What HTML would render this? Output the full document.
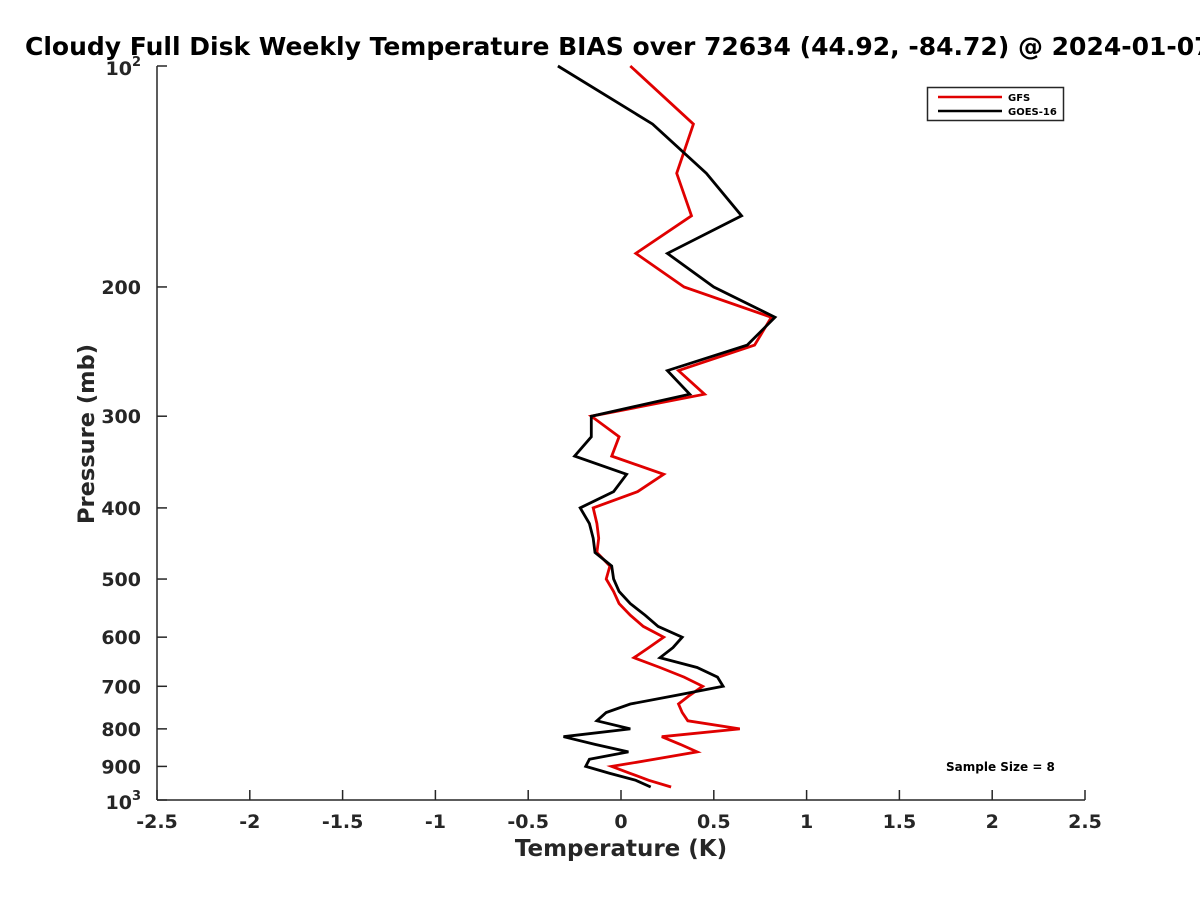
<!DOCTYPE html>
<html><head><meta charset="utf-8">
<style>
body{margin:0;background:#fff;overflow:hidden;}
svg{display:block;font-family:"DejaVu Sans","Liberation Sans",sans-serif;font-weight:bold;}
</style></head>
<body>
<svg id="chart" width="1200" height="900" viewBox="0 0 1200 900" xmlns="http://www.w3.org/2000/svg">
<rect width="1200" height="900" fill="#fff"/>
<text x="25" y="55" font-size="25" fill="#000">Cloudy Full Disk Weekly Temperature BIAS over 72634 (44.92, -84.72) @ 2024-01-07</text>
<g id="axes"></g>
<g id="series"></g>
<g>
<rect x="927.5" y="87.5" width="136" height="33" fill="#fff" stroke="#262626" stroke-width="1.5"/>
<line x1="938" y1="97" x2="1002" y2="97" stroke="#e00000" stroke-width="2.5"/>
<text x="1008" y="101" font-size="10" fill="#000">GFS</text>
<line x1="938" y1="111" x2="1002" y2="111" stroke="#000" stroke-width="2.5"/>
<text x="1008" y="115" font-size="10" fill="#000">GOES-16</text>
</g>
<text x="946" y="771" font-size="12" fill="#000">Sample Size = 8</text>
<text x="621" y="856" font-size="23" text-anchor="middle" fill="#262626">Temperature (K)</text>
<text transform="translate(94,434) rotate(-90)" font-size="22.5" text-anchor="middle" fill="#262626">Pressure (mb)</text>
</svg>
<script>
const pressureLevels = [100,120,140,160,180,200,220,240,260,280,300,320,340,360,380,400,420,440,460,480,500,520,540,560,580,600,620,640,660,680,700,720,740,760,780,800,820,840,860,880,900,920,940,960];
const gfsBias = [0.05,0.39,0.30,0.38,0.08,0.34,0.81,0.72,0.31,0.45,-0.16,-0.01,-0.05,0.23,0.09,-0.15,-0.13,-0.12,-0.13,-0.06,-0.08,-0.04,-0.01,0.05,0.12,0.23,0.15,0.07,0.21,0.34,0.44,0.37,0.31,0.33,0.36,0.64,0.22,0.32,0.41,0.18,-0.05,0.05,0.15,0.27];
const goesBias = [-0.34,0.17,0.46,0.65,0.25,0.50,0.83,0.68,0.25,0.37,-0.16,-0.16,-0.25,0.03,-0.04,-0.22,-0.17,-0.15,-0.14,-0.05,-0.04,-0.01,0.05,0.13,0.20,0.33,0.28,0.21,0.41,0.52,0.55,0.30,0.05,-0.08,-0.13,0.05,-0.31,-0.14,0.04,-0.17,-0.19,-0.06,0.08,0.16];
const xTicks = [-2.5,-2,-1.5,-1,-0.5,0,0.5,1,1.5,2,2.5];
const xTickLabels = ["-2.5","-2","-1.5","-1","-0.5","0","0.5","1","1.5","2","2.5"];
const yTicks = [200,300,400,500,600,700,800,900];

const NS="http://www.w3.org/2000/svg";
const X0=157,X1=1085,Y0=66,Y1=800;
function xs(v){return X0+(v+2.5)/5*(X1-X0);}
function ys(p){return Y0+Math.log10(p/100)*(Y1-Y0);}
function mk(tag,attrs,parent){const e=document.createElementNS(NS,tag);for(const k in attrs)e.setAttribute(k,attrs[k]);parent.appendChild(e);return e;}
const axes=document.getElementById('axes');
const series=document.getElementById('series');
let el=mk('line',{x1:X0,y1:Y0,x2:X0,y2:Y1,stroke:'#262626','stroke-width':1.5},axes);


el=mk('line',{x1:X0,y1:Y1,x2:X1,y2:Y1,stroke:'#262626','stroke-width':1.5},axes);


xTicks.forEach((t,i)=>{
  const x=xs(t);
  const tk=mk('line',{x1:x,y1:Y1,x2:x,y2:Y1-10,stroke:'#262626','stroke-width':1.5},axes);
  
  
  const tl=mk('text',{x:x,y:Y1+28,'font-size':19,'text-anchor':'middle',fill:'#262626'},axes);
  tl.textContent=xTickLabels[i];
  
  
});
[100].concat(yTicks,[1000]).forEach(p=>{
  const y=ys(p);
  const tk=mk('line',{x1:X0,y1:y,x2:X0+10,y2:y,stroke:'#262626','stroke-width':1.5},axes);
  
  
});
yTicks.forEach(p=>{
  const tl=mk('text',{x:X0-16,y:ys(p)+7,'font-size':19,'text-anchor':'end',fill:'#262626'},axes);
  tl.textContent=String(p);
  
  
});
[[100,'2'],[1000,'3']].forEach(([p,e])=>{
  const tl=mk('text',{x:X0-16,y:ys(p)+9,'font-size':19,'text-anchor':'end',fill:'#262626'},axes);
  tl.textContent='10';
  const s=mk('tspan',{'font-size':13,dy:-9},tl);
  s.textContent=e;
  
  
});
function drawSeries(vals,color,name){
  const pts=vals.map((v,i)=>xs(v).toFixed(1)+','+ys(pressureLevels[i]).toFixed(1)).join(' ');
  const pl=mk('polyline',{points:pts,fill:'none',stroke:color,'stroke-width':2.8,'stroke-linejoin':'miter'},series);
  
  
}
drawSeries(gfsBias,'#e00000','gfs-bias-line');
drawSeries(goesBias,'#000000','goes16-bias-line');
</script>
</body></html>
